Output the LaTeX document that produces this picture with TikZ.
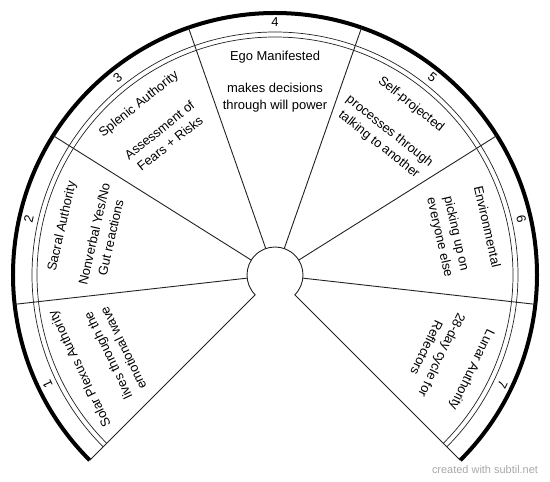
\documentclass[tikz,border=0pt]{standalone}
\usepackage{fontspec}
\setmainfont{Liberation Sans}
\usepackage{xcolor}
\usepackage{tikz}
\definecolor{wheelline}{HTML}{222222}
\definecolor{creditgray}{HTML}{A8A8A8}

\begin{document}
\begin{tikzpicture}[x=1bp,y=1bp,
  divider/.style={draw=wheelline, line width=0.9bp},
  ringline/.style={draw=wheelline, line width=0.7bp},
  authnum/.style={font=\fontsize{13}{16}\selectfont, inner sep=0pt},
  authtitle/.style={font=\fontsize{13}{16}\selectfont, inner sep=0pt},
  authdesc/.style={font=\fontsize{13}{17}\selectfont, align=center, inner sep=0pt}]
\useasboundingbox (-275,-207) rectangle (275,275);
% outer rim and double ring
\draw[line width=4bp, line cap=butt] (225:262) arc[start angle=225, end angle=-45, radius=262];
\draw[ringline] (225:243) arc[start angle=225, end angle=-45, radius=243];
\draw[ringline] (225:238) arc[start angle=225, end angle=-45, radius=238];
% hub
\draw[divider] (225:28) arc[start angle=225, end angle=-45, radius=28];
% dividers
\draw[divider] (225:28) -- (225:262);
\draw[divider] (186.43:28) -- (186.43:262);
\draw[divider] (147.86:28) -- (147.86:262);
\draw[divider] (109.29:28) -- (109.29:262);
\draw[divider] (70.71:28) -- (70.71:262);
\draw[divider] (32.14:28) -- (32.14:262);
\draw[divider] (-6.43:28) -- (-6.43:262);
\draw[divider] (-45:28) -- (-45:262);
% numbers
\node[authnum, rotate=115.71] (num1) at (205.71:252.5) {1};
\node[authnum, rotate=77.14] (num2) at (167.14:252.5) {2};
\node[authnum, rotate=38.57] (num3) at (128.57:252.5) {3};
\node[authnum] (num4) at (90:252.5) {4};
\node[authnum, rotate=-38.57] (num5) at (51.43:252.5) {5};
\node[authnum, rotate=-77.14] (num6) at (12.86:252.5) {6};
\node[authnum, rotate=-115.71] (num7) at (-25.71:252.5) {7};
% titles
\node[authtitle, rotate=115.71] (title1) at (205.71:216) {Solar Plexus Authority};
\node[authtitle, rotate=77.14] (title2) at (167.14:218) {Sacral Authority};
\node[authtitle, rotate=38.57] (title3) at (128.57:218) {Splenic Authority};
\node[authtitle] (title4) at (90:218) {Ego Manifested};
\node[authtitle, rotate=-38.57] (title5) at (51.43:218) {Self-projected};
\node[authtitle, rotate=-77.14] (title6) at (12.86:218) {Environmental};
\node[authtitle, rotate=-115.71] (title7) at (-25.71:218) {Lunar Authority};
% descriptions
\node[authdesc, rotate=115.71] (desc1) at (205.71:177) {lives through the\\emotional wave};
\node[authdesc, rotate=77.14] (desc2) at (167.14:177) {Nonverbal Yes/No\\Gut reactions};
\node[authdesc, rotate=38.57] (desc3) at (128.57:177) {Assessment of\\Fears + Risks};
\node[authdesc] (desc4) at (90:177) {makes decisions\\through will power};
\node[authdesc, rotate=-38.57] (desc5) at (51.43:175) {processes through\\talking to another};
\node[authdesc, rotate=-77.14] (desc6) at (12.86:177) {picking up on\\everyone else};
\node[authdesc, rotate=-115.71] (desc7) at (-25.71:177) {28-day cycle for\\Reflectors};
% credit
\node[font=\fontsize{11}{13}\selectfont, text=creditgray] (credit) at (210,-195) {created with subtil.net};
\end{tikzpicture}
\end{document}
